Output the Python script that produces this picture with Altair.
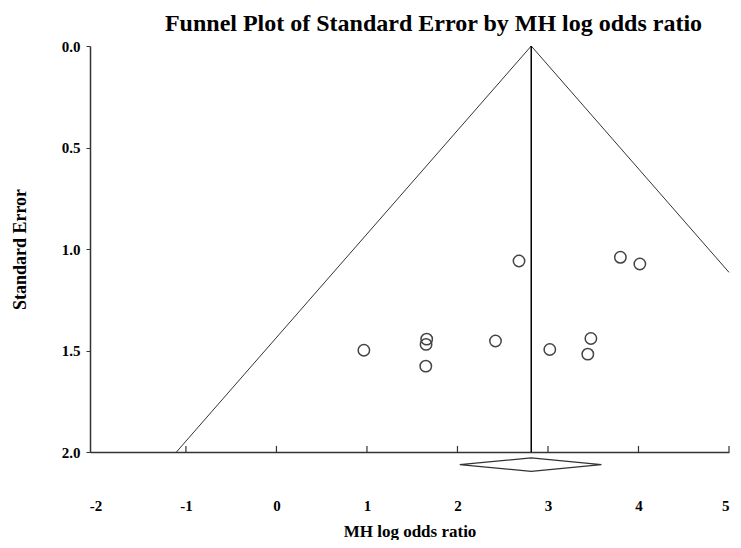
import altair as alt
import pandas as pd

# Study points (MH log odds ratio, standard error)
study_lor = [0.966, 1.66, 1.653, 1.65, 2.42, 2.68, 3.02, 3.474, 3.44, 3.80, 4.015]
study_se = [1.499, 1.444, 1.47, 1.577, 1.453, 1.059, 1.495, 1.441, 1.518, 1.041, 1.074]

# Pooled estimate and funnel boundaries
pooled_lor = 2.815
funnel_x = [-1.105, 2.815, 5.0]
funnel_y = [2.0, 0.0, 1.115]

# Summary diamond (below the axis)
diamond_x = [2.025, 2.815, 3.59, 2.815, 2.025]
diamond_y = [2.062, 2.029, 2.062, 2.095, 2.062]

x_ticks = [-2, -1, 0, 1, 2, 3, 4, 5]
x_inner_ticks = [-1, 0, 1, 2, 3, 4, 5]
y_ticks = [0.0, 0.5, 1.0, 1.5, 2.0]

FONT = "Liberation Serif"
INK = "#333333"

pts = pd.DataFrame({"lor": study_lor, "se": study_se})
funnel = pd.DataFrame({"lor": funnel_x, "se": funnel_y, "o": list(range(len(funnel_x)))})
diamond = pd.DataFrame({"lor": diamond_x, "se": diamond_y, "o": list(range(len(diamond_x)))})
vline = pd.DataFrame({"lor": [pooled_lor], "se": [0.0], "se2": [2.0]})
ticks = pd.DataFrame({"lor": x_inner_ticks, "se": [2.0] * len(x_inner_ticks), "se2": [1.97] * len(x_inner_ticks)})

xs = alt.Scale(domain=[-2.06, 5], nice=False, zero=False)
ys = alt.Scale(domain=[0, 2], reverse=True, nice=False, zero=False)

x_axis = alt.Axis(values=x_ticks, labelExpr="'' + datum.value", title="MH log odds ratio", grid=False,
                  ticks=False, labelPadding=46, titlePadding=10,
                  labelFont=FONT, labelFontSize=15, labelFontWeight="bold", labelColor="black",
                  titleFont=FONT, titleFontSize=17, titleFontWeight="bold", titleColor="black",
                  domainColor=INK, domainWidth=1.5)
y_axis = alt.Axis(values=y_ticks, format=".1f", title="Standard Error", grid=False,
                  tickSize=4, tickColor=INK, labelPadding=6, titlePadding=32,
                  labelFont=FONT, labelFontSize=15, labelFontWeight="bold", labelColor="black",
                  titleFont=FONT, titleFontSize=18, titleFontWeight="bold", titleColor="black",
                  domainColor=INK, domainWidth=1.5)

base_x = alt.X("lor:Q", scale=xs, axis=x_axis)
base_y = alt.Y("se:Q", scale=ys, axis=y_axis)

funnel_layer = alt.Chart(funnel).mark_line(color=INK, strokeWidth=1).encode(
    x=base_x, y=base_y, order="o:Q")

vline_layer = alt.Chart(vline).mark_rule(color="black", strokeWidth=1.5).encode(
    x="lor:Q", y="se:Q", y2="se2:Q")

tick_layer = alt.Chart(ticks).mark_rule(color=INK, strokeWidth=1.2).encode(
    x="lor:Q", y="se:Q", y2="se2:Q")

diamond_layer = alt.Chart(diamond).mark_line(color=INK, strokeWidth=1.2, clip=False).encode(
    x="lor:Q", y="se:Q", order="o:Q")

point_layer = alt.Chart(pts).mark_point(shape="circle", size=130, filled=False,
                                        color="#444444", strokeWidth=1.5, opacity=1).encode(
    x="lor:Q", y="se:Q")

chart = alt.layer(funnel_layer, vline_layer, tick_layer, diamond_layer, point_layer).properties(
    width=639, height=406,
    autosize=alt.AutoSizeParams(type="none"),
    padding={"left": 82, "top": 38, "right": 4, "bottom": 88},
    title=alt.TitleParams("Funnel Plot of Standard Error by MH log odds ratio",
                          font=FONT, fontSize=24, fontWeight="bold", color="black",
                          anchor="middle", dx=24, offset=3),
    background="white",
).configure_view(stroke=None)

chart.save("out.html", embed_options={"renderer": "svg", "actions": False})
